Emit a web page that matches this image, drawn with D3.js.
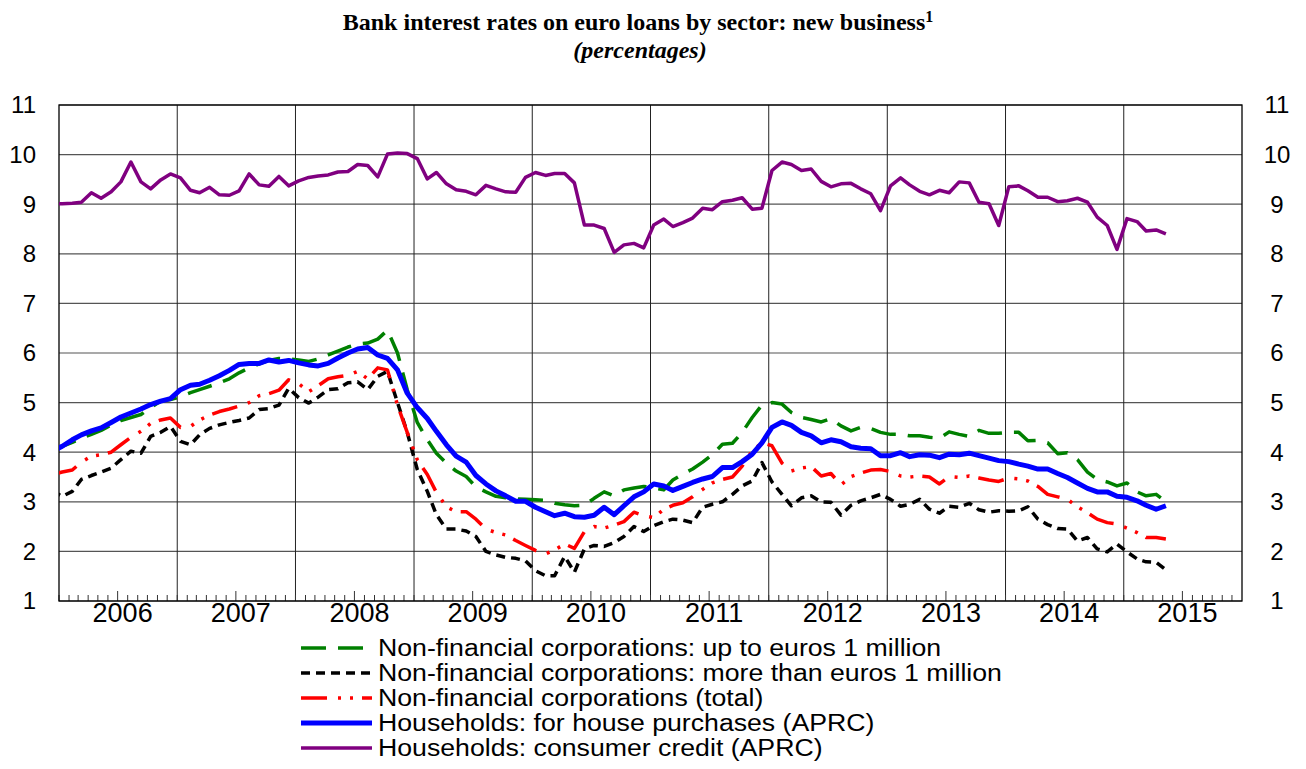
<!DOCTYPE html>
<html lang="en">
<head>
  <meta charset="UTF-8">
  <title>Bank interest rates on euro loans by sector</title>
  <style>
    body { margin: 0; background: #fff; }
    svg { display: block; }
    .tick-label { font-family: "Liberation Sans", Arial, sans-serif; font-size: 24px; fill: #000; }
    .year-label { font-family: "Liberation Sans", Arial, sans-serif; font-size: 27px; fill: #000; }
    .legend text { font-family: "Liberation Sans", Arial, sans-serif; font-size: 23px; fill: #000; }
    .title { font-family: "Liberation Serif", "Times New Roman", serif; font-weight: bold; fill: #000; }
    .series { fill: none; stroke-linejoin: round; }
  </style>
</head>
<body>
  <div id="chart"></div>
  <script src="https://cdn.jsdelivr.net/npm/d3@7"></script>
  <script>
    // monthly data, Dec 2005 .. May 2015
    var startYear = 2005, startMonth = 11;

    var upTo1m = [4.05, 4.12, 4.20, 4.28, 4.36, 4.44, 4.55, 4.64, 4.70, 4.76, 4.90, 5.03, 5.06,
      5.12, 5.20, 5.26, 5.33, 5.40, 5.48, 5.60, 5.70, 5.78, 5.85, 5.89, 5.88,
      5.86, 5.83, 5.88, 5.96, 6.04, 6.12, 6.18, 6.20, 6.28, 6.46, 6.00, 5.26,
      4.60, 4.25, 3.98, 3.78, 3.62, 3.51, 3.30, 3.20, 3.11, 3.08, 3.06, 3.05,
      3.04, 3.03, 2.97, 2.94, 2.92, 2.93, 3.07, 3.20, 3.12, 3.24, 3.28, 3.31,
      3.28, 3.24, 3.44, 3.56, 3.66, 3.80, 3.95, 4.16, 4.18, 4.40, 4.70, 4.95,
      5.00, 4.97, 4.80, 4.70, 4.66, 4.61, 4.68, 4.53, 4.43, 4.50, 4.48, 4.40,
      4.36, 4.36, 4.33, 4.33, 4.30, 4.28, 4.41, 4.36, 4.32, 4.44, 4.38, 4.38,
      4.40, 4.40, 4.23, 4.24, 4.19, 3.97, 3.99, 3.85, 3.60, 3.45, 3.40, 3.32,
      3.38, 3.20, 3.12, 3.15, 3.00];

    var over1m = [3.22, 3.11, 3.21, 3.45, 3.53, 3.60, 3.68, 3.85, 4.02, 3.98, 4.32, 4.40, 4.52,
      4.22, 4.15, 4.35, 4.48, 4.55, 4.60, 4.64, 4.69, 4.86, 4.88, 4.95, 5.29,
      5.10, 4.99, 5.11, 5.26, 5.28, 5.40, 5.42, 5.26, 5.53, 5.63, 5.00, 4.40,
      3.65, 3.21, 2.74, 2.45, 2.45, 2.41, 2.30, 2.00, 1.93, 1.88, 1.86, 1.81,
      1.61, 1.51, 1.51, 1.90, 1.58, 2.05, 2.12, 2.10, 2.18, 2.30, 2.50, 2.40,
      2.52, 2.60, 2.65, 2.63, 2.58, 2.89, 2.95, 3.00, 3.15, 3.32, 3.42, 3.79,
      3.40, 3.15, 2.92, 3.08, 3.12, 3.00, 2.99, 2.73, 2.93, 3.02, 3.08, 3.15,
      3.05, 2.91, 2.95, 3.05, 2.85, 2.77, 2.91, 2.89, 2.97, 2.84, 2.79, 2.82,
      2.81, 2.82, 2.90, 2.65, 2.54, 2.46, 2.45, 2.21, 2.28, 2.05, 1.99, 2.15,
      1.99, 1.85, 1.79, 1.78, 1.63];

    var nfcTotal = [3.55, 3.60, 3.64, 3.80, 3.92, 3.95, 4.00, 4.15, 4.30, 4.42, 4.58, 4.65, 4.69,
      4.50, 4.52, 4.65, 4.75, 4.82, 4.87, 4.93, 5.00, 5.14, 5.18, 5.25, 5.46,
      5.38, 5.22, 5.34, 5.48, 5.52, 5.55, 5.63, 5.48, 5.70, 5.66, 4.95, 4.40,
      3.85, 3.55, 3.19, 2.90, 2.80, 2.80, 2.65, 2.45, 2.38, 2.33, 2.22, 2.12,
      2.02, 1.95, 2.03, 2.15, 2.06, 2.40, 2.50, 2.47, 2.53, 2.60, 2.79, 2.72,
      2.68, 2.85, 2.93, 2.98, 3.10, 3.25, 3.38, 3.45, 3.50, 3.72, 4.03, 4.19,
      4.13, 3.78, 3.62, 3.68, 3.71, 3.52, 3.57, 3.34, 3.51, 3.58, 3.64, 3.65,
      3.61, 3.52, 3.50, 3.52, 3.50, 3.36, 3.51, 3.49, 3.52, 3.48, 3.44, 3.41,
      3.48, 3.46, 3.42, 3.31, 3.15, 3.10, 3.05, 2.90, 2.78, 2.65, 2.58, 2.55,
      2.47, 2.38, 2.28, 2.28, 2.25];

    var housePurchase = [4.02, 4.12, 4.25, 4.35, 4.43, 4.49, 4.60, 4.71, 4.79, 4.87, 4.96, 5.03, 5.08,
      5.26, 5.35, 5.37, 5.45, 5.54, 5.65, 5.77, 5.79, 5.79, 5.86, 5.82, 5.85,
      5.80, 5.76, 5.74, 5.79, 5.90, 6.00, 6.08, 6.11, 5.96, 5.89, 5.66, 5.19,
      4.90, 4.68, 4.42, 4.15, 3.92, 3.80, 3.53, 3.36, 3.22, 3.12, 3.01, 3.01,
      2.89, 2.80, 2.72, 2.77, 2.70, 2.69, 2.73, 2.89, 2.74, 2.92, 3.10, 3.20,
      3.36, 3.32, 3.23, 3.31, 3.39, 3.46, 3.51, 3.69, 3.69, 3.81, 3.96, 4.19,
      4.50, 4.61, 4.54, 4.40, 4.33, 4.19, 4.25, 4.21, 4.11, 4.08, 4.07, 3.93,
      3.93, 3.99, 3.91, 3.95, 3.94, 3.89, 3.96, 3.95, 3.98, 3.93, 3.88, 3.83,
      3.81, 3.76, 3.72, 3.66, 3.66, 3.57, 3.49, 3.38, 3.27, 3.20, 3.20, 3.11,
      3.09, 3.02, 2.93, 2.85, 2.92];

    var consumerCredit = [9.00, 9.01, 9.02, 9.04, 9.23, 9.12, 9.25, 9.45, 9.85, 9.45, 9.31, 9.49, 9.61,
      9.53, 9.28, 9.23, 9.34, 9.19, 9.18, 9.27, 9.61, 9.39, 9.36, 9.56, 9.37,
      9.47, 9.54, 9.57, 9.59, 9.65, 9.66, 9.80, 9.78, 9.55, 10.01, 10.03, 10.02,
      9.92, 9.51, 9.64, 9.41, 9.29, 9.26, 9.19, 9.38, 9.31, 9.25, 9.24, 9.54,
      9.64, 9.58, 9.62, 9.62, 9.43, 8.58, 8.58, 8.51, 8.03, 8.18, 8.21, 8.12,
      8.58, 8.70, 8.55, 8.63, 8.72, 8.92, 8.89, 9.05, 9.08, 9.13, 8.90, 8.92,
      9.68, 9.85, 9.80, 9.68, 9.71, 9.46, 9.35, 9.41, 9.42, 9.31, 9.21, 8.87,
      9.37, 9.53, 9.39, 9.26, 9.19, 9.28, 9.23, 9.45, 9.43, 9.04, 9.01, 8.57,
      9.35, 9.37, 9.27, 9.14, 9.14, 9.05, 9.07, 9.12, 9.04, 8.74, 8.57, 8.09,
      8.71, 8.65, 8.46, 8.48, 8.40];

    var seriesNames = [
      'Non-financial corporations: up to euros 1 million',
      'Non-financial corporations: more than euros 1 million',
      'Non-financial corporations (total)',
      'Households: for house purchases (APRC)',
      'Households: consumer credit (APRC)'
    ];
    var yTicks = [1, 2, 3, 4, 5, 6, 7, 8, 9, 10, 11];
    var years = [2006, 2007, 2008, 2009, 2010, 2011, 2012, 2013, 2014, 2015];

    var styles = [
      { color: '#008000', width: 3.5, dash: '25,12' },
      { color: '#000000', width: 3.5, dash: '9,6' },
      { color: '#ff0000', width: 3.5, dash: '26,11,3,9,3,9' },
      { color: '#0000ff', width: 5, dash: null },
      { color: '#800080', width: 3.5, dash: null }
    ];

    var W = 1306, H = 769;
    var margin = { left: 59, right: 64, top: 105, bottom: 168 };

    var svg = d3.select('#chart').append('svg')
      .attr('width', W)
      .attr('height', H);

    var x = d3.scaleTime()
      .domain([new Date(2006, 0, 1), new Date(2016, 0, 1)])
      .range([margin.left, W - margin.right]);
    var y = d3.scaleLinear()
      .domain([1, 11])
      .range([H - margin.bottom, margin.top]);

    // title
    var title = svg.append('text')
      .attr('class', 'title')
      .attr('x', 638)
      .attr('y', 30)
      .attr('text-anchor', 'middle')
      .style('font-size', '24px');
    title.append('tspan').text('Bank interest rates on euro loans by sector: new business');
    title.append('tspan').attr('dy', -8).style('font-size', '16px').text('1');
    svg.append('text')
      .attr('class', 'title')
      .attr('x', 640)
      .attr('y', 58)
      .attr('text-anchor', 'middle')
      .style('font-size', '24px')
      .style('font-style', 'italic')
      .text('(percentages)');

    // grid
    var grid = svg.append('g');
    grid.selectAll('line.h')
      .data(yTicks)
      .enter()
      .append('line')
      .attr('x1', x.range()[0])
      .attr('x2', x.range()[1])
      .attr('y1', function (d) { return y(d); })
      .attr('y2', function (d) { return y(d); })
      .attr('stroke', '#555')
      .attr('stroke-width', 1.2);
    grid.selectAll('line.v')
      .data(years.slice(1))
      .enter()
      .append('line')
      .attr('x1', function (d) { return x(new Date(d, 0, 1)); })
      .attr('x2', function (d) { return x(new Date(d, 0, 1)); })
      .attr('y1', y.range()[0])
      .attr('y2', y.range()[1])
      .attr('stroke', '#222')
      .attr('stroke-width', 1);

    // month ticks on the bottom
    var months = d3.timeMonth.range(x.domain()[0], x.domain()[1]);
    svg.append('g').selectAll('line')
      .data(months)
      .enter()
      .append('line')
      .attr('x1', function (d) { return x(d); })
      .attr('x2', function (d) { return x(d); })
      .attr('y1', y.range()[0])
      .attr('y2', function (d) { return y.range()[0] - (d.getMonth() === 6 ? 10 : 6); })
      .attr('stroke', '#333')
      .attr('stroke-width', 1);

    // frame
    svg.append('rect')
      .attr('x', x.range()[0])
      .attr('y', y.range()[1])
      .attr('width', x.range()[1] - x.range()[0])
      .attr('height', y.range()[0] - y.range()[1])
      .attr('fill', 'none')
      .attr('stroke', '#000')
      .attr('stroke-width', 1.3);

    // axis labels
    svg.append('g').selectAll('text')
      .data(yTicks)
      .enter()
      .append('text')
      .attr('class', 'tick-label')
      .attr('x', 36)
      .attr('y', function (d) { return y(d); })
      .attr('dy', '0.35em')
      .attr('text-anchor', 'end')
      .text(function (d) { return d; });
    svg.append('g').selectAll('text')
      .data(yTicks)
      .enter()
      .append('text')
      .attr('class', 'tick-label')
      .attr('x', 1277)
      .attr('y', function (d) { return y(d); })
      .attr('dy', '0.35em')
      .attr('text-anchor', 'middle')
      .text(function (d) { return d; });
    svg.append('g').selectAll('text')
      .data(years)
      .enter()
      .append('text')
      .attr('class', 'year-label')
      .attr('x', function (d) { return x(new Date(d, 6, 1)) + 5; })
      .attr('y', 622)
      .attr('text-anchor', 'middle')
      .text(function (d) { return d; });

    // series
    function toPoints(values) {
      return values.map(function (v, i) {
        return { date: new Date(startYear, startMonth + i, 11), value: v };
      });
    }
    var allSeries = [upTo1m, over1m, nfcTotal, housePurchase, consumerCredit];

    svg.append('clipPath').attr('id', 'plot-clip')
      .append('rect')
      .attr('x', x.range()[0])
      .attr('y', y.range()[1])
      .attr('width', x.range()[1] - x.range()[0])
      .attr('height', y.range()[0] - y.range()[1]);

    var line = d3.line()
      .x(function (d) { return x(d.date); })
      .y(function (d) { return y(d.value); });

    // draw purple and blue last, as in the reference
    var drawOrder = [0, 1, 2, 4, 3];
    svg.append('g').attr('clip-path', 'url(#plot-clip)')
      .selectAll('path')
      .data(drawOrder)
      .enter()
      .append('path')
      .attr('class', 'series')
      .attr('d', function (k) { return line(toPoints(allSeries[k])); })
      .attr('stroke', function (k) { return styles[k].color; })
      .attr('stroke-width', function (k) { return styles[k].width; })
      .attr('stroke-dasharray', function (k) { return styles[k].dash; });

    // legend
    var legend = svg.append('g').attr('class', 'legend');
    var rows = legend.selectAll('g')
      .data(seriesNames)
      .enter()
      .append('g')
      .attr('transform', function (d, i) { return 'translate(301,' + (648 + i * 25) + ')'; });
    rows.append('line')
      .attr('x1', 0)
      .attr('x2', 71)
      .attr('stroke', function (d, i) { return styles[i].color; })
      .attr('stroke-width', function (d, i) { return styles[i].width; })
      .attr('stroke-dasharray', function (d, i) { return styles[i].dash; });
    // reference text is slightly wide, so stretch it a little
    rows.append('text')
      .attr('transform', 'translate(77,0) scale(1.16,1)')
      .attr('dy', '0.35em')
      .text(function (d) { return d; });
  </script>
</body>
</html>
